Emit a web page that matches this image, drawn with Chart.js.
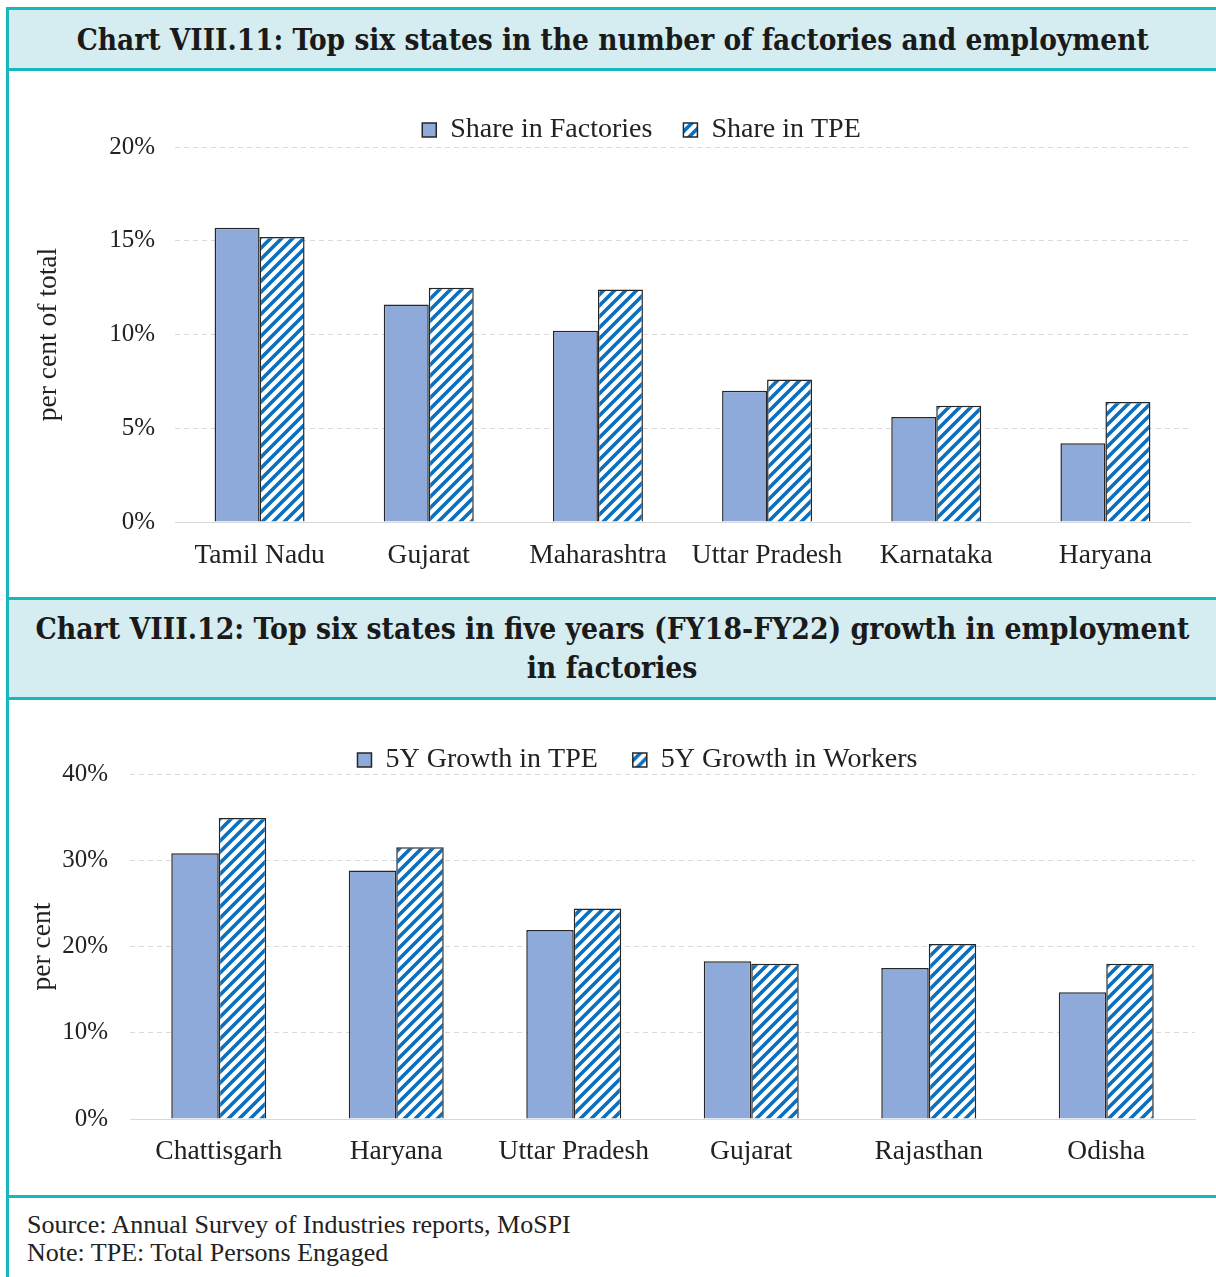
<!DOCTYPE html>
<html><head><meta charset="utf-8">
<script src="https://cdn.jsdelivr.net/npm/chart.js@4.4.1/dist/chart.umd.min.js"></script>
<style>
html,body{margin:0;padding:0;background:#fff;}
body{width:1216px;height:1277px;position:relative;overflow:hidden;font-family:"Liberation Serif","Times New Roman",serif;}
.b{position:absolute;background:#17b8bd;}
.tbar{position:absolute;left:9px;width:1207px;background:#d5ecf0;}
.ttl{position:absolute;left:9px;width:1207px;text-align:center;font-family:"DejaVu Serif Condensed","DejaVu Serif",serif;font-stretch:condensed;font-weight:bold;font-size:30px;color:#1a1a1a;white-space:nowrap;line-height:36px;}
.ttl span{display:inline-block;transform-origin:center;}
canvas{position:absolute;left:9px;}
.foot{position:absolute;left:27px;top:1211px;font-size:26px;line-height:28px;color:#222;white-space:nowrap;}
</style></head>
<body>
<div class="b" style="left:6px;top:7px;width:3px;height:1270px"></div>
<div class="b" style="left:6px;top:7px;width:1210px;height:3px"></div>
<div class="tbar" style="top:10px;height:58px"></div>
<div class="b" style="left:6px;top:68px;width:1210px;height:3px"></div>
<div class="b" style="left:6px;top:597px;width:1210px;height:3px"></div>
<div class="tbar" style="top:600px;height:97px"></div>
<div class="b" style="left:6px;top:697px;width:1210px;height:3px"></div>
<div class="b" style="left:6px;top:1195px;width:1210px;height:3px"></div>

<div class="ttl" style="top:22px"><span id="t1">Chart VIII.11: Top six states in the number of factories and employment</span></div>
<div class="ttl" style="top:611px"><span class="ts" id="t2">Chart VIII.12: Top six states in five years (FY18-FY22) growth in employment</span></div>
<div class="ttl" style="top:650px"><span class="ts">in factories</span></div>

<canvas id="c1" width="1207" height="526" style="top:71px"></canvas>
<canvas id="c2" width="1207" height="495" style="top:700px"></canvas>

<div class="foot">Source: Annual Survey of Industries reports, MoSPI<br>Note: TPE: Total Persons Engaged</div>

<script>
// ---- data ----
const states1 = ["Tamil Nadu", "Gujarat", "Maharashtra", "Uttar Pradesh", "Karnataka", "Haryana"];
const shareFactories = [15.7, 11.6, 10.2, 7.0, 5.6, 4.2];
const shareTPE = [15.2, 12.5, 12.4, 7.6, 6.2, 6.4];
const ticks1 = [0, 5, 10, 15, 20];

const states2 = ["Chattisgarh", "Haryana", "Uttar Pradesh", "Gujarat", "Rajasthan", "Odisha"];
const growthTPE = [30.8, 28.8, 21.9, 18.3, 17.5, 14.7];
const growthWorkers = [34.9, 31.5, 24.4, 18.0, 20.3, 18.0];
const ticks2 = [0, 10, 20, 30, 40];

const legend1 = ["Share in Factories", "Share in TPE"];
const legend2 = ["5Y Growth in TPE", "5Y Growth in Workers"];

// ---- title fitting ----
(function(){
  const t1 = document.getElementById('t1');
  const k1 = 1072 / t1.getBoundingClientRect().width;
  t1.style.transform = 'scaleX(' + k1 + ')';
  const t2 = document.getElementById('t2');
  const k2 = 1154 / t2.getBoundingClientRect().width;
  document.querySelectorAll('.ts').forEach(s => s.style.transform = 'scaleX(' + k2 + ')');
})();

// ---- stripe pattern ----
function stripes(){
  const c = document.createElement('canvas');
  const s = 11;
  c.width = s; c.height = s;
  const x = c.getContext('2d');
  x.fillStyle = '#ffffff'; x.fillRect(0,0,s,s);
  x.strokeStyle = '#0b6fc0'; x.lineWidth = 3.6; x.lineCap = 'square';
  x.beginPath();
  x.moveTo(-s/2, s/2); x.lineTo(s/2, -s/2);
  x.moveTo(0, s); x.lineTo(s, 0);
  x.moveTo(s/2, s*1.5); x.lineTo(s*1.5, s/2);
  x.stroke();
  return x.createPattern(c, 'repeat');
}

// ---- legend layout tweaks ----
const LEG = { c1: {h: 62, dx: 42}, c2: {h: 63, dx: 35.5} };
const LegendEl = (Chart.Legend && Chart.Legend._element) || Chart.registry.getPlugin('legend')._element;
const oFit = LegendEl.prototype.fit;
LegendEl.prototype.fit = function(){
  oFit.call(this);
  const c = LEG[this.chart.canvas.id];
  if (c) this.height = c.h;
};
const oDraw = LegendEl.prototype.draw;
LegendEl.prototype.draw = function(){
  const c = LEG[this.chart.canvas.id];
  this.ctx.save();
  if (c) this.ctx.translate(c.dx, 0);
  oDraw.call(this);
  this.ctx.restore();
};

const TXT = '#222222';
const GRID = '#d9d9d9';

function makeChart(id, labels, a, b, names, maxV, ticks, cfg){
  const pat = stripes();
  return new Chart(document.getElementById(id), {
    type: 'bar',
    data: {
      labels: labels,
      datasets: [
        { label: names[0], data: a, backgroundColor: '#8eaadb', borderColor: '#262626', borderWidth: 1.5,
          barPercentage: 1, categoryPercentage: cfg.cat },
        { label: names[1], data: b, backgroundColor: pat, borderColor: '#262626', borderWidth: 1.5,
          barPercentage: 1, categoryPercentage: cfg.cat }
      ]
    },
    options: {
      responsive: false,
      devicePixelRatio: 1,
      animation: false,
      layout: { padding: { top: cfg.padTop, right: cfg.padRight, left: 0, bottom: 0 } },
      plugins: {
        legend: {
          position: 'top',
          labels: {
            boxWidth: 14, boxHeight: 14, padding: cfg.legPad,
            color: TXT,
            font: { family: '"Liberation Serif", serif', size: 28 }
          }
        },
        tooltip: { enabled: false }
      },
      scales: {
        x: {
          grid: { display: false, drawTicks: false },
          border: { display: true, color: GRID, width: 1 },
          ticks: { color: TXT, padding: cfg.xPad, maxRotation: 0, autoSkip: false,
                   font: { family: '"Liberation Serif", serif', size: 27.5 } },
          afterFit: s => { s.height = cfg.xH; }
        },
        y: {
          min: 0, max: maxV,
          afterBuildTicks: s => { s.ticks = ticks.map(v => ({ value: v })); },
          grid: { color: GRID, lineWidth: 1, drawTicks: false },
          border: { display: false, dash: [5, 4] },
          ticks: { color: TXT, padding: cfg.yPad,
                   font: { family: '"Liberation Serif", serif', size: 25 },
                   callback: v => v + '%' },
          title: { display: true, text: cfg.yTitle, color: TXT,
                   padding: { top: cfg.yTitlePad, bottom: 0 },
                   font: { family: '"Liberation Serif", serif', size: 27.5 } },
          afterFit: s => { s.width = cfg.yW; }
        }
      }
    }
  });
}

const ch1 = makeChart('c1', states1, shareFactories, shareTPE, legend1, 20, ticks1,
  { cat: 0.532, padTop: 14, padRight: 26, legPad: 31, xPad: 17.5, xH: 75, yPad: 20, yW: 166,
    yTitle: 'per cent of total', yTitlePad: 23.5 });
const ch2 = makeChart('c2', states2, growthTPE, growthWorkers, legend2, 40, ticks2,
  { cat: 0.535, padTop: 11, padRight: 21, legPad: 35, xPad: 16.5, xH: 76, yPad: 22, yW: 121,
    yTitle: 'per cent', yTitlePad: 17.5 });
</script>
</body></html>
